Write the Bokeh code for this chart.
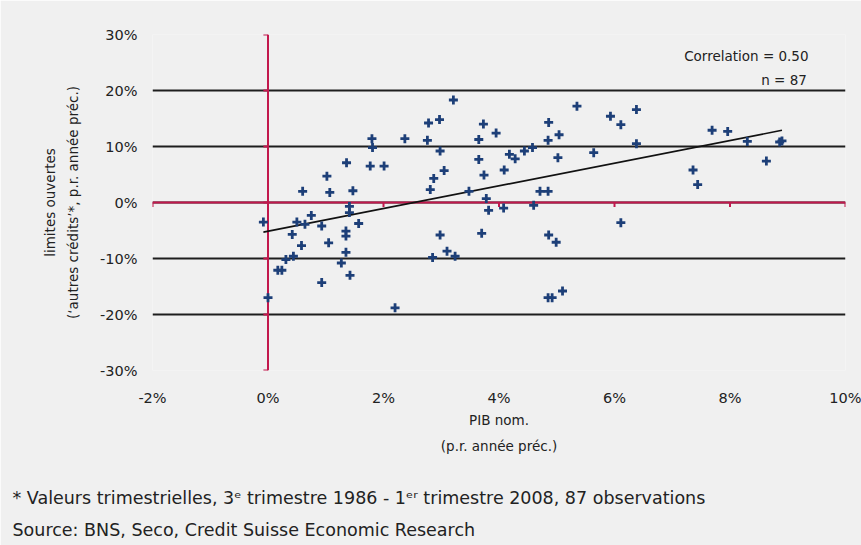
import numpy as np
from bokeh.plotting import figure
from bokeh.models import Span, Label, FixedTicker, Range1d, Title
from bokeh.embed import file_html
from bokeh.resources import INLINE

# Nominal GDP growth (% y/y) and open credit limits growth (% y/y), quarterly, 87 obs.
gdp = [1.80, 1.81, 1.36, 1.77, 1.02, 0.60, 1.07, 1.47, 1.41, 1.41,
       -0.08, 0.50, 0.64, 0.75, 0.93, 1.57, 0.42, 1.35, 1.35, 0.58,
       1.05, 1.35, 0.31, 0.44, 1.27, 0.17, 0.24, 1.42, 0.93, 0.00,
       3.21, 2.78, 2.97, 3.73, 2.37, 2.76, 3.65, 2.98, 2.01, 3.65,
       3.05, 2.87, 3.74, 2.81, 3.48, 3.78, 3.82, 2.98, 3.70, 3.10,
       3.24, 2.85, 2.20,
       5.35, 3.95, 4.86, 5.04, 4.85, 4.58, 4.44, 4.18, 4.28, 5.02,
       5.64, 4.09, 4.71, 4.85, 4.08, 4.60, 4.86, 4.99, 4.85, 4.92,
       5.10,
       5.93, 6.11, 6.38, 6.38, 7.69, 7.36, 7.44, 6.11,
       7.96, 8.30, 8.63, 8.86, 8.90]
credit = [11.4, 9.8, 7.1, 6.5, 4.7, 2.0, 1.8, 2.1, -0.7, -1.8,
          -3.5, -3.5, -3.9, -2.3, -4.2, -3.75, -5.7, -5.1, -6.0, -7.7,
          -7.2, -8.9, -10.2, -9.6, -10.8, -12.1, -12.1, -13.0, -14.3, -17.0,
          18.3, 14.2, 14.8, 14.0, 11.4, 11.1, 11.25, 9.2, 6.5, 7.7,
          5.7, 4.3, 4.9, 2.3, 2.0, 0.7, -1.4, -5.8, -5.5, -8.7,
          -9.6, -9.8, -18.8,
          17.2, 12.4, 14.3, 12.1, 11.1, 9.8, 9.2, 8.6, 7.8, 8.0,
          8.9, 5.8, 2.0, 2.0, -1.0, -0.5, -5.8, -7.1, -17.0, -17.0,
          -15.8,
          15.4, 13.9, 16.6, 10.5, 12.9, 5.8, 3.2, -3.6,
          12.7, 10.9, 7.4, 10.8, 11.0]

x_ticks = [-2, 0, 2, 4, 6, 8, 10]
x_tick_labels = ["-2%", "0%", "2%", "4%", "6%", "8%", "10%"]
y_ticks = [-30, -20, -10, 0, 10, 20, 30]
y_tick_labels = ["-30%", "-20%", "-10%", "0%", "10%", "20%", "30%"]

corr_text = "Correlation = 0.50"
n_text = "n = %d" % len(gdp)
y_title_1 = "limites ouvertes"
y_title_2 = "(\u2018autres crédits\u2019*, p.r. année préc.)"
x_title_1 = "PIB nom."
x_title_2 = "(p.r. année préc.)"
foot_1 = "* Valeurs trimestrielles, 3\u1d49 trimestre 1986 - 1\u1d49\u02b3 trimestre 2008, 87 observations"
foot_2 = "Source: BNS, Seco, Credit Suisse Economic Research"

FONT = "DejaVu Sans"
RED = "#c2184d"
BG = "#f0f0f0"
TXT = "#222222"

p = figure(width=861, height=545, x_range=Range1d(-2, 10), y_range=Range1d(-30, 30),
           output_backend="svg", toolbar_location=None,
           min_border_left=152, min_border_right=16, min_border_top=34, min_border_bottom=175)
p.background_fill_color = BG
p.border_fill_color = BG
p.outline_line_color = None

for ax in (p.xaxis, p.yaxis):
    ax.axis_line_color = None
    ax.major_tick_line_color = None
    ax.minor_tick_line_color = None
    ax.major_tick_out = 0
    ax.major_tick_in = 0
    ax.minor_tick_out = 0
    ax.major_label_text_font = FONT
    ax.major_label_text_font_size = "14.5px"
    ax.major_label_text_color = TXT
    ax.axis_label_text_font = FONT
    ax.axis_label_text_font_size = "13.5px"
    ax.axis_label_text_font_style = "normal"
    ax.axis_label_text_color = TXT

p.xaxis.ticker = FixedTicker(ticks=x_ticks)
p.xaxis.major_label_overrides = dict(zip(x_ticks, x_tick_labels))
p.xaxis.major_label_standoff = 19
p.xaxis.axis_label = x_title_1
p.xaxis.axis_label_standoff = 3
p.yaxis.ticker = FixedTicker(ticks=y_ticks)
p.yaxis.major_label_overrides = dict(zip(y_ticks, y_tick_labels))
p.yaxis.major_label_standoff = 15
p.yaxis.axis_label = y_title_2
p.yaxis.axis_label_standoff = 16

p.xgrid.visible = False
p.ygrid.ticker = FixedTicker(ticks=y_ticks)
p.ygrid.grid_line_color = "#1e1e1e"
p.ygrid.grid_line_width = 1.8

# red zero lines
p.add_layout(Span(location=0, dimension="height", line_color=RED, line_width=2, level="underlay"))
p.add_layout(Span(location=0, dimension="width", line_color=RED, line_width=2, level="underlay"))

# small red tick marks on the zero lines
p.segment(x0=x_ticks, y0=[0] * len(x_ticks), x1=x_ticks, y1=[-0.8] * len(x_ticks),
          line_color=RED, line_width=2)
p.segment(x0=[0] * len(y_ticks), y0=y_ticks, x1=[-0.08] * len(y_ticks), y1=y_ticks,
          line_color=RED, line_width=2)

# regression line
slope, intercept = np.polyfit(gdp, credit, 1)
xs = [min(gdp), max(gdp)]
p.line(xs, [slope * v + intercept for v in xs], line_color="#111111", line_width=1.6)

p.scatter(gdp, credit, marker="cross", size=9, line_width=2.8, color="#1d3f78")

def lab(x, y, text, size, align="left"):
    p.add_layout(Label(x=x, y=y, text=text, text_font=FONT, text_font_size=size,
                       text_align=align, text_baseline="middle", text_color=TXT))

lab(9.36, 26.25, corr_text, "13.5px", "right")
lab(9.33, 21.96, n_text, "13.5px", "right")

def title(text, side, size, align="center", offset=0):
    t = Title(text=text, align=align, offset=offset, text_font=FONT, text_font_size=size,
              text_font_style="normal", text_color=TXT)
    p.add_layout(t, side)

title(y_title_1, "left", "13.5px")
title(x_title_2, "below", "13.5px")
title(" ", "below", "9px")
title(foot_1, "below", "17.5px", "left", -140)
title(foot_2, "below", "17.5px", "left", -140)

open("out.html", "w").write(file_html(p, INLINE))
